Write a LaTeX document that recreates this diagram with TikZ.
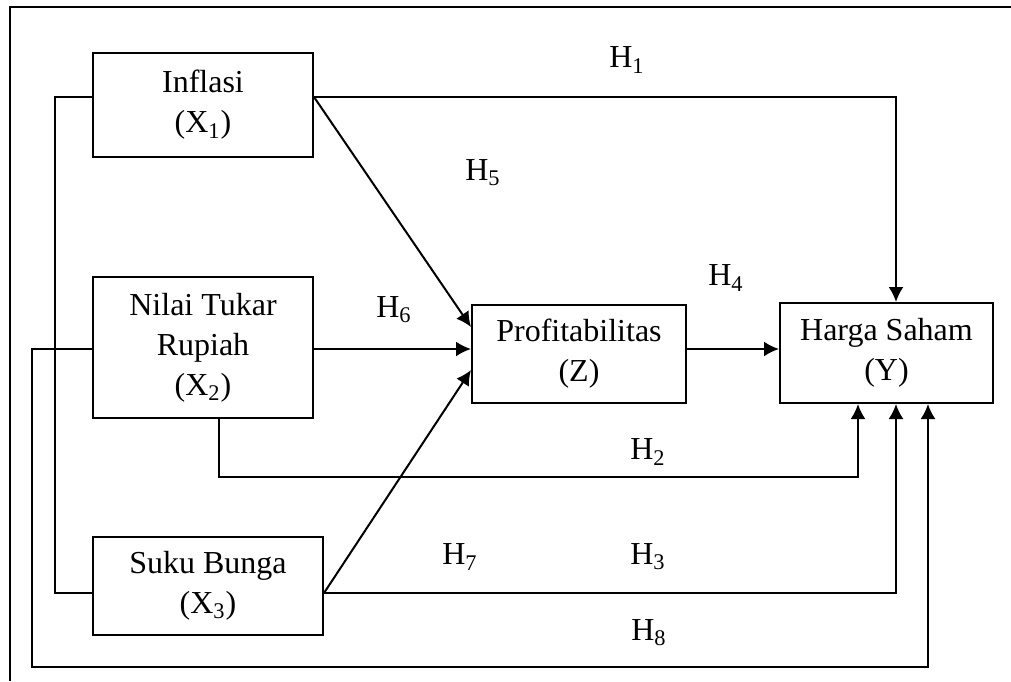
\documentclass[tikz,border=0pt]{standalone}
\usepackage{fontspec}
\setmainfont{Liberation Serif}
\usepackage{tikz}
\usetikzlibrary{arrows.meta,positioning}

\begin{document}
\begin{tikzpicture}[x=0.5pt, y=-0.5pt, line width=1pt, >={Latex[length=7.5pt,width=7.5pt]},
            box/.style={draw, rectangle, align=center, inner sep=0pt, font=\fontsize{16}{20}\selectfont},
            hyp/.style={font=\fontsize{16}{20}\selectfont}]
            \useasboundingbox (0,0) rectangle (1011,681);
            \draw (1011,7) -- (10,7) -- (10,681);

            \node[box, minimum width=110pt, minimum height=52pt] (x1) at (203, 105){Inflasi\\(X\textsubscript{1})};
            \node[box, minimum width=110pt, minimum height=70.5pt] (x2) at (203, 347.5){Nilai Tukar\\Rupiah\\(X\textsubscript{2})};
            \node[box, minimum width=115pt, minimum height=49pt] (x3) at (208, 586){Suku Bunga\\(X\textsubscript{3})};
            \node[box, minimum width=107pt, minimum height=49pt] (z) at (579, 354){Profitabilitas\\(Z)};
            \node[box, minimum width=106.5pt, minimum height=50pt] (y) at (886.5, 353){Harga Saham\\(Y)};

            \node[hyp] (h1) at (627, 60){H\textsubscript{1}};
            \node[hyp] (h5) at (483, 173){H\textsubscript{5}};
            \node[hyp] (h6) at (394, 310){H\textsubscript{6}};
            \node[hyp] (h4) at (726, 278){H\textsubscript{4}};
            \node[hyp] (h2) at (648, 452){H\textsubscript{2}};
            \node[hyp] (h7) at (460, 557){H\textsubscript{7}};
            \node[hyp] (h3) at (648, 557){H\textsubscript{3}};
            \node[hyp] (h8) at (649, 633){H\textsubscript{8}};

            \coordinate (b1) at (55, 97);
            \coordinate (b3) at (55, 593);
            \coordinate (o2) at (32, 349);
            \coordinate (t1) at (896, 97);
            \coordinate (c2) at (858, 477);
            \coordinate (c3) at (896, 593);
            \coordinate (c8) at (928, 667);

            \draw (x1.west |- b1) -- (b1) -- (b3) -- (x3.west |- b3);
            \draw[->] (x1.east |- b1) -- (t1) -- (t1 |- y.north);
            \draw[->] (x1.east |- b1) -- ([yshift=13.5pt]z.west);
            \draw[->] (x2.east |- o2) -- (z.west |- o2);
            \draw[->] (x3.east |- b3) -- ([yshift=-8pt]z.west);
            \draw[->] (z.east |- o2) -- (y.west |- o2);
            \draw[->] ([xshift=8pt]x2.south) |- (c2) -- (c2 |- y.south);
            \draw[->] (x3.east |- c3) -- (c3) -- (c3 |- y.south);
            \draw[->] (x2.west |- o2) -- (o2) -- (o2 |- c8) -- (c8) -- (c8 |- y.south);
\end{tikzpicture}
\end{document}
